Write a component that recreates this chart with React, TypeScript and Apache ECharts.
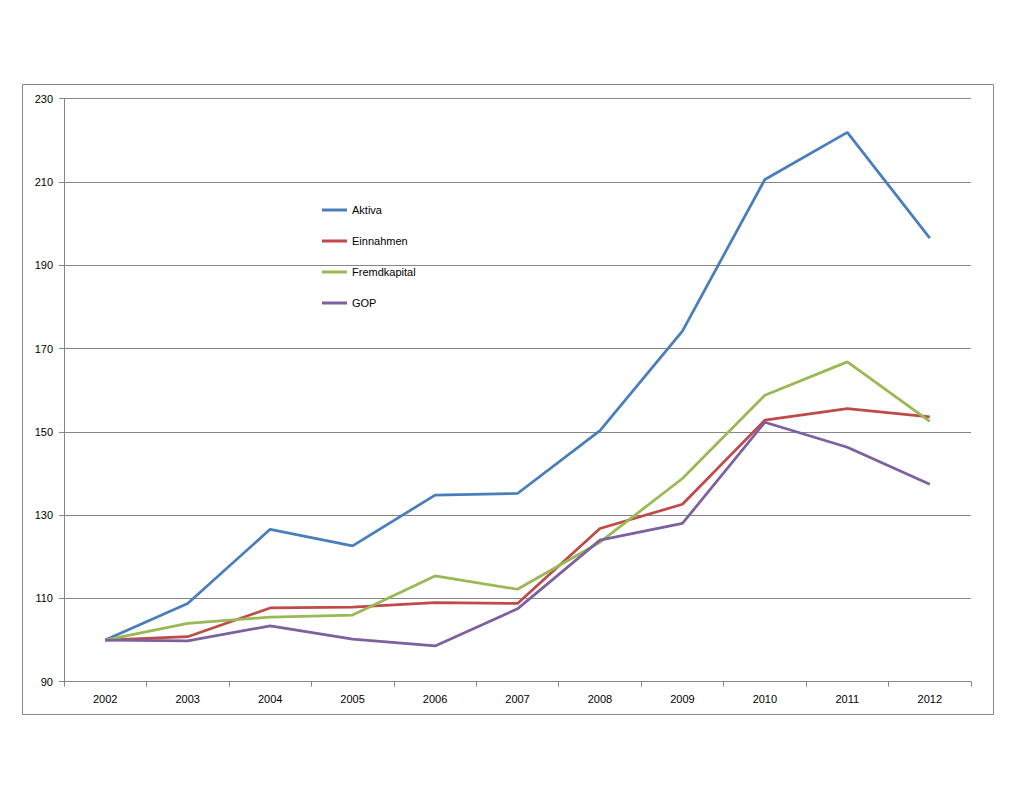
import React, { useEffect, useRef } from "react";
import * as echarts from "echarts";

const years = ["2002", "2003", "2004", "2005", "2006", "2007", "2008", "2009", "2010", "2011", "2012"];
const aktiva = [100, 108.8, 126.6, 122.6, 134.8, 135.2, 150.3, 174.2, 210.6, 221.9, 196.5];
const einnahmen = [100, 100.8, 107.7, 107.9, 109.0, 108.8, 126.8, 132.6, 152.8, 155.6, 153.6];
const fremdkapital = [100, 104.0, 105.5, 106.0, 115.4, 112.2, 123.5, 138.8, 158.8, 166.8, 152.5];
const gop = [100, 99.8, 103.4, 100.2, 98.6, 107.5, 124.0, 128.0, 152.3, 146.3, 137.4];

const seriesNames = ["Aktiva", "Einnahmen", "Fremdkapital", "GOP"];
const seriesColors = ["#4A7EBB", "#BE4B48", "#98B954", "#7D60A0"];
const seriesData = [aktiva, einnahmen, fremdkapital, gop];

const FONT = "'Liberation Sans', Arial, sans-serif";
const GRAY = "#868686";

export default function App() {
  const ref = useRef<HTMLDivElement>(null);
  useEffect(() => {
    document.body.style.margin = "0";
    if (!ref.current) return;
    const chart = echarts.init(ref.current, null, { renderer: "svg" });
    chart.setOption({
      animation: false,
      backgroundColor: "#ffffff",
      textStyle: { fontFamily: FONT },
      graphic: [
        {
          type: "rect",
          shape: { x: 22.5, y: 84.5, width: 971, height: 630 },
          style: { fill: "none", stroke: GRAY, lineWidth: 1 },
          silent: true,
          z: -1,
        },
      ],
      legend: {
        orient: "vertical",
        left: 317,
        top: 198,
        itemWidth: 25,
        itemHeight: 3,
        itemGap: 17,
        icon: "rect",
        textStyle: { fontFamily: FONT, fontSize: 11, color: "#000", lineHeight: 14 },
        data: seriesNames,
      },
      grid: { left: 64, right: 53, top: 98.7, bottom: 114.3, containLabel: false },
      xAxis: {
        type: "category",
        data: years,
        boundaryGap: true,
        axisLine: { show: true, lineStyle: { color: GRAY, width: 1 } },
        axisTick: { show: true, length: 5, lineStyle: { color: GRAY } },
        axisLabel: { color: "#000", fontSize: 11, fontFamily: FONT, margin: 12 },
        splitLine: { show: false },
      },
      yAxis: {
        type: "value",
        min: 90,
        max: 230,
        interval: 20,
        axisLine: { show: true, lineStyle: { color: GRAY, width: 1 } },
        axisTick: { show: true, length: 5, lineStyle: { color: GRAY } },
        axisLabel: { color: "#000", fontSize: 11, fontFamily: FONT, margin: 11 },
        splitLine: { show: true, lineStyle: { color: GRAY, width: 1 } },
      },
      series: seriesNames.map((name, i) => ({
        name,
        type: "line",
        data: seriesData[i],
        symbol: "none",
        showSymbol: false,
        color: seriesColors[i],
        lineStyle: { color: seriesColors[i], width: 2.75 },
        itemStyle: { color: seriesColors[i] },
      })),
    });
    return () => chart.dispose();
  }, []);
  return <div ref={ref} style={{ width: 1024, height: 796 }} />;
}
